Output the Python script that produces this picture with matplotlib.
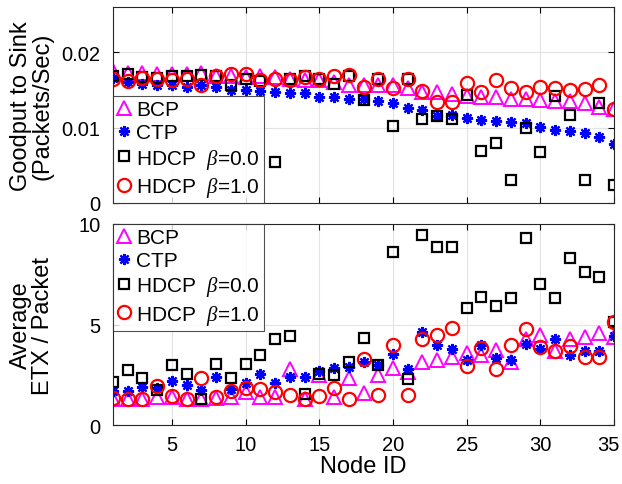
import numpy as np
import matplotlib.pyplot as plt
import matplotlib.transforms as mtransforms

plt.rcParams['font.family'] = ['Liberation Sans', 'DejaVu Sans']
plt.rcParams['mathtext.fontset'] = 'custom'
plt.rcParams['mathtext.it'] = 'Liberation Serif:italic'

# node ids
nodes = np.arange(1, 36)

# goodput to sink (packets/sec)
goodput_bcp = [0.0175, 0.0173, 0.0172, 0.0171, 0.0171, 0.0171, 0.0172, 0.0169, 0.0168, 0.0167,
               0.0168, 0.0167, 0.0165, 0.0163, 0.0163, 0.0160, 0.0156, 0.0157, 0.0157, 0.0157,
               0.0153, 0.0147, 0.0147, 0.0144, 0.0142, 0.0141, 0.0140, 0.0138, 0.0138, 0.0137,
               0.0135, 0.0135, 0.0132, 0.0128, 0.0125]
goodput_ctp = [0.0166, 0.0160, 0.0158, 0.0157, 0.0156, 0.0154, 0.0157, 0.0154, 0.0150, 0.0150,
               0.0149, 0.0147, 0.0146, 0.0146, 0.0141, 0.0140, 0.0138, 0.0138, 0.0135, 0.0132,
               0.0126, 0.0124, 0.0116, 0.0117, 0.0113, 0.0110, 0.0109, 0.0108, 0.0106, 0.0101,
               0.0097, 0.0096, 0.0093, 0.0087, 0.0078]
goodput_hdcp0 = [0.0169, 0.0171, 0.0167, 0.0166, 0.0169, 0.0168, 0.0170, 0.0168, 0.0156, 0.0165,
                 0.0162, 0.0054, 0.0164, 0.0168, 0.0165, 0.0158, 0.0168, 0.0136, 0.0164, 0.0102,
                 0.0164, 0.0112, 0.0115, 0.0112, 0.0143, 0.0069, 0.0080, 0.0030, 0.0099, 0.0067,
                 0.0142, 0.0117, 0.0031, 0.0132, 0.0024]
goodput_hdcp1 = [0.0164, 0.0162, 0.0166, 0.0165, 0.0163, 0.0165, 0.0157, 0.0168, 0.0171, 0.0171,
                 0.0163, 0.0165, 0.0163, 0.0167, 0.0165, 0.0168, 0.0170, 0.0154, 0.0164, 0.0152,
                 0.0165, 0.0149, 0.0134, 0.0134, 0.0159, 0.0147, 0.0163, 0.0153, 0.0147, 0.0154,
                 0.0153, 0.0150, 0.0151, 0.0157, 0.0125]

# average ETX per packet
etx_bcp = [1.30, 1.27, 1.27, 1.38, 1.38, 1.27, 1.27, 1.33, 1.38, 1.63,
           1.38, 1.38, 2.80, 1.30, 2.47, 1.38, 2.33, 1.60, 2.47, 2.83,
           2.63, 3.13, 3.22, 3.38, 3.60, 3.47, 3.72, 3.13, 4.30, 4.47,
           3.67, 4.27, 4.38, 4.60, 4.38]
etx_ctp = [1.67, 1.67, 1.88, 1.83, 2.17, 1.97, 1.72, 2.38, 1.80, 2.10,
           2.52, 2.10, 2.38, 2.38, 2.68, 2.83, 2.88, 3.13, 3.00, 3.55,
           2.77, 4.63, 4.00, 3.77, 3.22, 3.97, 3.33, 3.22, 4.05, 3.80,
           4.27, 3.50, 3.67, 3.67, 4.43]
etx_hdcp0 = [2.13, 2.72, 2.35, 1.75, 3.00, 2.52, 1.30, 3.05, 2.33, 3.02,
             3.50, 4.27, 4.43, 1.55, 2.55, 2.47, 3.13, 4.33, 2.97, 8.60,
             2.30, 9.43, 8.85, 8.85, 5.80, 6.35, 5.92, 6.33, 9.30, 7.00,
             6.30, 8.33, 7.63, 7.38, 5.10]
etx_hdcp1 = [1.33, 1.30, 1.30, 1.93, 1.43, 1.30, 2.33, 1.38, 1.67, 1.83,
             1.80, 1.63, 1.47, 1.30, 1.43, 1.83, 1.30, 3.30, 1.47, 3.97,
             1.50, 4.30, 4.50, 4.83, 2.93, 3.83, 2.80, 4.00, 4.77, 3.88,
             3.67, 3.93, 3.38, 3.38, 5.10]

labels = ['BCP', 'CTP', r'HDCP  $\mathit{\beta}$=0.0', r'HDCP  $\mathit{\beta}$=1.0']

fig = plt.figure(figsize=(6.22, 4.85), dpi=100)
ax1 = fig.add_axes([0.1817, 0.5794, 0.8055, 0.4041])
ax2 = fig.add_axes([0.1817, 0.1216, 0.8055, 0.4145])


def draw(ax, bcp, ctp, h0, h1):
    ax.plot(nodes, bcp, ls='none', marker='^', ms=10, mfc='none', mec=(1, 0, 1), mew=1.4, label=labels[0])
    ax.plot(nodes, ctp, ls='none', marker=(8, 2, 0), ms=8, mec='blue', mew=1.6, label=labels[1])
    ax.plot(nodes, h0, ls='none', marker='s', ms=7.5, mfc='none', mec='black', mew=1.6, label=labels[2])
    ax.plot(nodes, h1, ls='none', marker='o', ms=9.5, mfc='none', mec='red', mew=1.6, label=labels[3])
    ax.set_xlim(1, 35)
    ax.set_xticks(range(5, 36, 5))
    ax.grid(True, color='#e3e3e3', lw=0.8)
    ax.set_axisbelow(True)
    ax.tick_params(direction='in', labelsize=14.5, length=4, top=True, right=True, pad=9)
    for s in ax.spines.values():
        s.set_color('#262626')
        s.set_linewidth(0.8)


draw(ax1, goodput_bcp, goodput_ctp, goodput_hdcp0, goodput_hdcp1)
ax1.set_ylim(0, 0.026)
ax1.set_yticks([0, 0.01, 0.02])
ax1.set_yticklabels(['0', '0.01', '0.02'])
ax1.tick_params(labelbottom=False)
ax1.set_ylabel('Goodput to Sink\n(Packets/Sec)', fontsize=17, linespacing=1.0)

draw(ax2, etx_bcp, etx_ctp, etx_hdcp0, etx_hdcp1)
ax2.set_ylim(0, 10)
ax2.set_yticks([0, 5, 10])
ax2.tick_params(axis='x', pad=7)
ax2.set_ylabel('Average\nETX / Packet', fontsize=17, linespacing=1.0)
ax2.set_xlabel('Node ID', fontsize=17, labelpad=1)

for ax, loc in [(ax1, 'lower left'), (ax2, 'upper left')]:
    leg = ax.legend(loc=loc, fontsize=15, frameon=True, fancybox=False, borderaxespad=0,
                    handlelength=0.7, handletextpad=0.2, borderpad=0.2, labelspacing=0.2)
    leg.get_frame().set_edgecolor('#262626')
    leg.get_frame().set_linewidth(0.8)

ax1.yaxis.set_label_coords(-0.118, 0.5)
ax2.yaxis.set_label_coords(-0.118, 0.5)

# nudge the last x tick label ("35") so it stays inside the picture
fig.canvas.draw()
last = ax2.get_xticklabels()[-1]
last.set_transform(last.get_transform() + mtransforms.ScaledTranslation(-4 / 72, 0, fig.dpi_scale_trans))

fig.savefig('out.png', dpi=100)
